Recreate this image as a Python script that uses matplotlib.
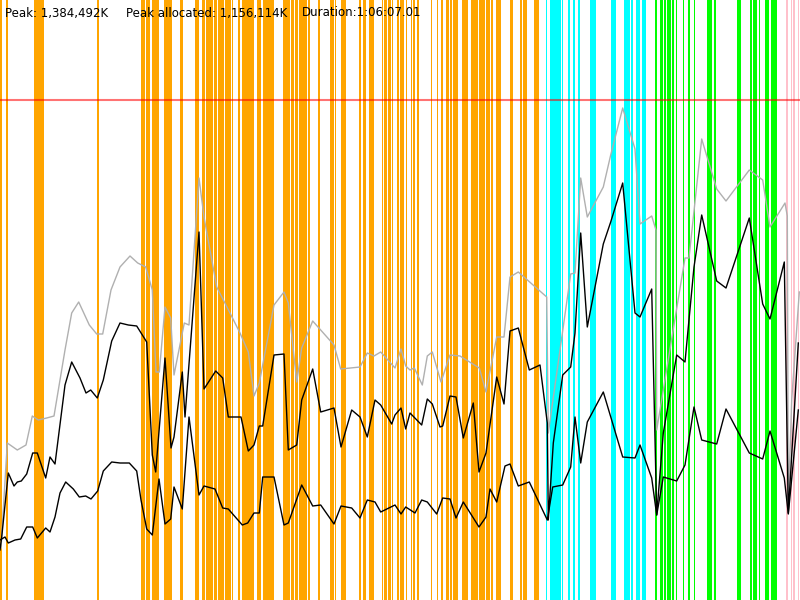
import matplotlib
matplotlib.use("Agg")
import matplotlib.pyplot as plt

# GC event bands (start, end) on the time axis
orange_events = [(0, 2), (6, 8), (34, 44), (97, 99), (141, 145), (145.7, 150), (151.7, 155.7),
                 (156.3, 159), (164, 172), (180, 183), (195, 199), (201.7, 205), (205.7, 213.3),
                 (214, 216.7), (218.3, 224), (224.7, 231), (231.7, 233.3), (237.7, 240),
                 (241.7, 254), (257, 261), (262.7, 274), (283, 290), (290.7, 294.3), (295, 298),
                 (299, 307.3), (308, 310), (317.7, 319.7), (329.7, 334), (335, 336), (341, 346),
                 (359.3, 361), (362.7, 366), (369, 373.7), (381.7, 383), (383.7, 386.7),
                 (387.7, 391), (392, 392.7), (396.7, 399), (400, 404), (406, 407.3),
                 (410.7, 411.7), (413.3, 415.3), (417.3, 419.3), (431, 432), (436.7, 438.3),
                 (441, 442.7), (446, 449), (450, 451.7), (452.7, 457.7), (461.7, 467.7),
                 (470.7, 477.7), (479, 485), (485.7, 490), (491, 492.7), (495.7, 500.7),
                 (510.3, 512.7), (520.3, 522.3), (523.3, 526.7), (534.3, 539)]
cyan_events = [(545.7, 547.3), (549.7, 561), (562, 563.3), (568.3, 569.7), (572.7, 575),
               (577.7, 580), (590, 596), (611, 615.7), (624, 629.7), (631, 633),
               (635.7, 639.7), (641.7, 646)]
green_events = [(655, 656.7), (659.7, 663.3), (664, 666), (666.7, 671), (671.7, 674),
                (675.7, 677.3), (682.7, 684.3), (687.7, 690), (693.7, 695), (707.3, 712.3),
                (713.7, 716.3), (736.7, 741.3), (750, 752), (753, 757.3), (759, 760.3),
                (764.7, 769.3), (771.3, 776.7)]
pink_events = [(785.7, 787.7), (790.7, 792), (793.3, 795), (798.3, 799.3)]

# heap size (gray)
heap_t = [1, 7.3, 17.3, 26, 32.3, 38.3, 46.7, 54, 65, 71.7, 78.7, 89.3, 96.7, 102.7, 111, 120,
          130, 137.7, 145.7, 152.3, 156, 159.3, 165, 170.7, 174, 184.3, 189, 199, 204, 216.7,
          230, 240, 248.3, 254, 259.3, 274, 284, 288.3, 296.7, 301.7, 312.7, 334, 340.7, 360,
          367.3, 374, 380.7, 395, 401, 405.7, 410, 414.3, 422.3, 427.3, 432.3, 441, 450, 460,
          479.3, 486, 496.7, 504, 510, 518.3, 546.7, 548.3, 570.7, 575, 580.7, 587.3, 603.3,
          610.7, 622.7, 635, 640, 651.7, 656, 656.7, 663.3, 685, 689, 701.7, 716.7, 726, 749.3,
          762.7, 770, 785, 787.3, 788.3, 791.7, 799.3]
heap = [52, 157, 150, 155, 184, 180, 182, 184, 250, 287, 298, 275, 266, 266, 310, 333, 344, 337,
        333, 310, 228, 228, 293, 282, 225, 277, 275, 422, 383, 313, 287, 267, 248, 204, 217, 295,
        308, 297, 218, 252, 279, 255, 231, 233, 247, 244, 248, 232, 251, 234, 230, 232, 215, 244,
        248, 218, 245, 244, 232, 208, 263, 263, 323, 328, 303, 167, 326, 327, 422, 383, 413, 445,
        492, 451, 376, 384, 370, 170, 210, 342, 342, 461, 411, 399, 430, 420, 373, 397, 384, 95,
        200, 308]

# allocated before GC (black, upper)
alloc_t = [0, 1.7, 8.3, 14, 17.3, 21.3, 26.7, 32.7, 37.3, 45.7, 50, 55, 65, 71.7, 80, 86, 90.7,
           97.3, 103.3, 111.7, 120, 128.3, 136.7, 146.7, 152.3, 155.7, 165, 171, 174, 182.3, 185,
           199, 204, 215.7, 222.7, 228.3, 241, 248.3, 254, 259.3, 262.7, 274, 284, 288.3, 296.7,
           301.7, 312.7, 320.7, 334, 341, 351.7, 360, 367.3, 375, 380.7, 391.7, 395, 401, 405.7,
           410, 421.7, 427.3, 432.3, 440, 442.7, 450, 456, 463.3, 473.3, 479, 486, 496.7, 504,
           510, 518.3, 529.3, 540, 547.3, 548.3, 553.3, 562.7, 570.7, 575, 580.7, 587.3, 603.3,
           610.7, 622.7, 635, 640, 651.7, 656.7, 663.3, 676.7, 685, 694, 701.7, 716.7, 726, 749.3,
           762.7, 770, 784.3, 788.3, 798.3]
alloc = [50, 63, 127, 114, 118, 119, 126, 147, 147, 122, 143, 136, 215, 238, 222, 207, 210, 202,
         220, 259, 277, 275, 274, 258, 145, 128, 242, 152, 163, 228, 183, 368, 211, 229, 222, 183,
         183, 149, 155, 174, 174, 245, 246, 150, 155, 200, 231, 188, 192, 153, 190, 183, 163, 200,
         195, 176, 185, 192, 171, 187, 175, 201, 196, 173, 174, 204, 203, 162, 197, 128, 147, 223,
         196, 269, 272, 230, 235, 177, 80, 157, 225, 233, 267, 367, 273, 356, 378, 417, 287, 283,
         311, 85, 167, 245, 238, 333, 385, 319, 312, 382, 296, 281, 338, 87, 257]

# live after GC (black, lower)
live_t = [0, 5, 8.3, 15, 20.7, 26.7, 32.7, 37.3, 45.7, 50, 55, 60, 65.7, 73.3, 79.3, 85.7, 91,
          97.7, 103.3, 111.7, 120, 129.3, 136.7, 141, 146.7, 152.3, 159, 165, 170.7, 174, 182.3,
          189, 199, 204, 215, 222.7, 228.3, 242.3, 247.7, 254, 259.3, 262.7, 274, 284, 288.3,
          301.7, 312.7, 320.7, 334, 341, 351.7, 360, 367.3, 375, 380.7, 395, 401, 405.7, 415,
          421.7, 427.3, 436.7, 442.7, 450, 456, 463.3, 479, 486, 490, 496.7, 505, 510, 518.3,
          529.3, 547.3, 552.7, 562.7, 570.7, 575, 580.7, 587.3, 603.3, 622.7, 635, 640, 651.7,
          656.7, 663.3, 676.7, 685, 694, 701.7, 716.7, 726, 749.3, 762.7, 770, 784.3, 788.3, 798.3]
live = [60, 63, 57, 60, 61, 73, 73, 62, 72, 68, 83, 107, 118, 111, 103, 104, 101, 109, 129, 138,
        137, 137, 129, 100, 71, 65, 121, 76, 81, 113, 91, 183, 105, 114, 111, 92, 91, 75, 77, 87,
        87, 123, 123, 75, 77, 115, 94, 95, 76, 94, 92, 82, 100, 98, 88, 95, 86, 93, 87, 100,
        98, 86, 102, 101, 82, 98, 73, 83, 111, 98, 134, 136, 114, 118, 80, 113, 115, 133, 183, 137,
        178, 208, 143, 142, 155, 122, 85, 123, 119, 135, 193, 160, 156, 191, 147, 141, 169, 122, 86, 190]

max_heap = 500

fig = plt.figure(figsize=(8, 6), dpi=100)
ax = fig.add_axes([0, 0, 1, 1])

for events, color in [(orange_events, "#ffa500"), (cyan_events, "#00ffff"),
                      (green_events, "#00ff00"), (pink_events, "#ffc0cb")]:
    for start, end in events:
        ax.axvspan(start, end, color=color, lw=0)

ax.axhline(max_heap, color="red", alpha=0.55, lw=1.5)
ax.plot(heap_t, heap, color="#b0b0b0", lw=1)
ax.plot(alloc_t, alloc, color="black", lw=1)
ax.plot(live_t, live, color="black", lw=1)

ax.set_xlim(0, 800)
ax.set_ylim(0, 600)
ax.set_axis_off()

fs = 8.5
fig.text(5 / 800, 1 - 13 / 600, "Peak: 1,384,492K", fontsize=fs, va="center")
fig.text(126 / 800, 1 - 13 / 600, "Peak allocated: 1,156,114K", fontsize=fs, va="center")
fig.text(302 / 800, 1 - 13 / 600, "Duration:1:06:07.01", fontsize=fs, va="center")

fig.savefig("out.png", dpi=100)
